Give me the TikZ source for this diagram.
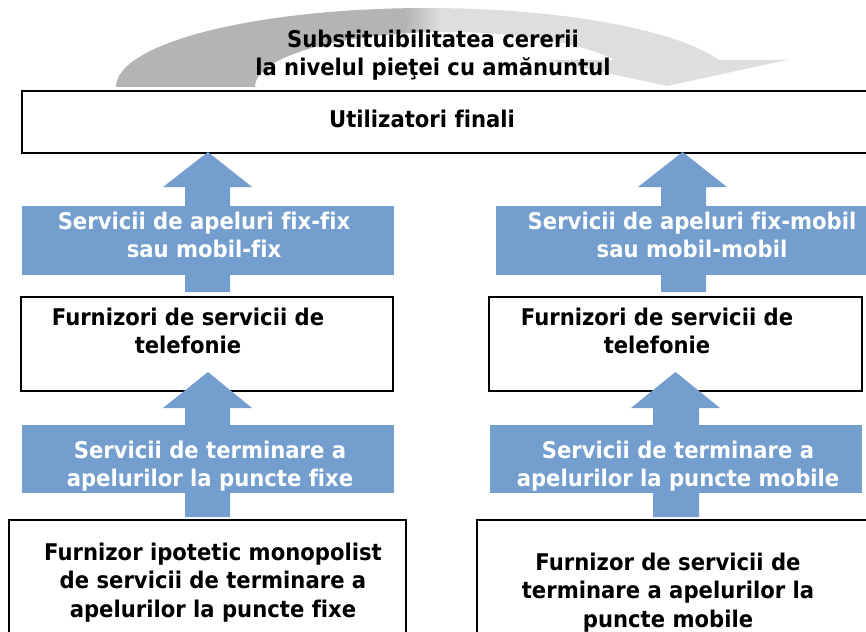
\documentclass[tikz,border=0pt]{standalone}
\usepackage{fontspec}
\newfontfamily\tfont[FakeStretch=0.92,Ligatures=NoCommon]{DejaVu Sans}
\definecolor{blu}{RGB}{115,158,206}
\definecolor{gdark}{RGB}{180,180,180}
\definecolor{glight}{RGB}{222,222,222}
\begin{document}
\begin{tikzpicture}[x=1pt,y=-1pt,
  txt/.style={font=\tfont\bfseries\fontsize{23}{28.5}\selectfont, align=center, inner sep=0pt, anchor=north},
  wtxt/.style={txt, text=white},
  box/.style={draw=black, line width=2.2pt, fill=white, inner sep=0pt, anchor=north west},
  bandbox/.style={fill=blu, inner sep=0pt, anchor=north west},
  blockarrow/.style={fill=blu}]
\useasboundingbox (0,0) rectangle (866,631);
\clip (0,0) rectangle (866,631);

% curved grey arrow (retail demand substitutability)
\begin{scope}
\clip (116,87) -- plot[domain=180:20,samples=90] ({427+311*cos(\x)},{87-79*sin(\x)})
  -- (787,60) -- (667,86) -- (547,60) -- (615,60)
  -- plot[domain=29.4:180,samples=90] ({447.4+192.4*cos(\x)},{87-55*sin(\x)}) -- cycle;
\fill[gdark] (100,0) rectangle (405,100);
\shade[left color=gdark, right color=glight] (405,0) rectangle (440,100);
\fill[glight] (440,0) rectangle (800,100);
\end{scope}
\node[txt] (title) at (433,29.5) {Substituibilitatea cererii\\la nivelul pieţei cu amănuntul};

% boxes
\node[box, minimum width=859pt, minimum height=62pt] (util) at (21,90) {};
\node[txt, anchor=base] (utiltxt) at (422,128) {Utilizatori finali};
\node[box, minimum width=372pt, minimum height=94pt] (fL) at (20,296) {};
\node[box, minimum width=373pt, minimum height=94pt] (fR) at (488,296) {};
\node[box, minimum width=397pt, minimum height=130pt] (bL) at (8,519) {};
\node[box, minimum width=420pt, minimum height=130pt] (bR) at (476,519) {};

% block arrows
\fill[blockarrow] (185,292) -- (185,187) -- (163,187) -- (208,152) -- (252,187) -- (230,187) -- (230,292) -- cycle;
\fill[blockarrow] (661,292) -- (661,187) -- (638,187) -- (682.5,152) -- (727,187) -- (706,187) -- (706,292) -- cycle;
\fill[blockarrow] (185,517) -- (185,408) -- (163,408) -- (208,372) -- (252,408) -- (230,408) -- (230,517) -- cycle;
\fill[blockarrow] (653,517) -- (653,408) -- (631,408) -- (675.5,372) -- (720,408) -- (699,408) -- (699,517) -- cycle;

% bands
\node[bandbox, minimum width=372pt, minimum height=69pt] (aL1) at (22,206) {};
\node[bandbox, minimum width=374pt, minimum height=69pt] (aR1) at (496,206) {};
\node[bandbox, minimum width=372pt, minimum height=68pt] (aL2) at (22,425) {};
\node[bandbox, minimum width=372pt, minimum height=68pt] (aR2) at (490,425) {};

% texts
\node[wtxt] (tL1) at (204,211.5) {Servicii de apeluri fix-fix\\sau mobil-fix};
\node[wtxt] (tR1) at (692,211.5) {Servicii de apeluri fix-mobil\\sau mobil-mobil};
\node[txt] (tfL) at (188,307.5) {Furnizori de servicii de\\telefonie};
\node[txt] (tfR) at (657,307.5) {Furnizori de servicii de\\telefonie};
\node[wtxt] (tL2) at (210,440.5) {Servicii de terminare a\\apelurilor la puncte fixe};
\node[wtxt] (tR2) at (678,440.5) {Servicii de terminare a\\apelurilor la puncte mobile};
\node[txt] (tbL) at (213,542.5) {Furnizor ipotetic monopolist\\de servicii de terminare a\\apelurilor la puncte fixe};
\node[txt] (tbR) at (668,552.5) {Furnizor de servicii de\\terminare a apelurilor la\\puncte mobile};
\end{tikzpicture}
\end{document}
